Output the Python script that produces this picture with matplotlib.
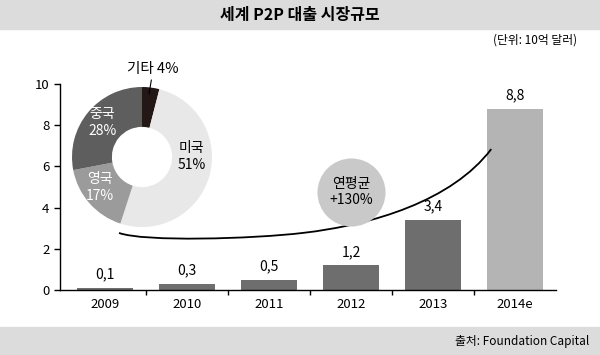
import matplotlib
matplotlib.use("Agg")
import matplotlib.pyplot as plt
from matplotlib.patches import Rectangle, PathPatch
from matplotlib.path import Path

plt.rcParams['font.family'] = ['Noto Sans CJK KR', 'DejaVu Sans']

# data
years = ['2009', '2010', '2011', '2012', '2013', '2014e']
market = [0.1, 0.3, 0.5, 1.2, 3.4, 8.8]
market_labels = ['0,1', '0,3', '0,5', '1,2', '3,4', '8,8']
bar_colors = ['#6e6e6e'] * 5 + ['#b4b4b4']

share_names = ['기타', '미국', '영국', '중국']
share_pct = [4, 51, 17, 28]
share_colors = ['#231815', '#e8e8e8', '#9b9b9b', '#5e5e5e']

# trend curve (bezier control points, data coords)
trend_x = [0.17, 0.47, 1.80, 2.41, 3.26, 4.23, 4.71]
trend_y = [2.77, 2.33, 2.48, 2.77, 3.16, 4.32, 6.84]

fig = plt.figure(figsize=(6, 3.55), dpi=100)

# grey bands top / bottom
fig.patches.append(Rectangle((0, 1 - 29 / 355), 1, 29 / 355, transform=fig.transFigure,
                             color='#dcdcdc', zorder=0))
fig.patches.append(Rectangle((0, 0), 1, 28 / 355, transform=fig.transFigure,
                             color='#dcdcdc', zorder=0))
fig.text(0.5, 1 - 15 / 355, '세계 P2P 대출 시장규모', ha='center', va='center',
         fontsize=11.5, fontweight='bold')
fig.text(0.962, 1 - 40 / 355, '(단위: 10억 달러)', ha='right', va='center', fontsize=8.5)
fig.text(0.982, 14 / 355, '출처: Foundation Capital', ha='right', va='center', fontsize=8.5)

ax = fig.add_axes([0.1, 65 / 355, 496 / 600, 206 / 355])
x = list(range(len(years)))
ax.bar(x, market, width=0.68, color=bar_colors, zorder=2)
for xi, v, lab in zip(x, market, market_labels):
    ax.text(xi, v + 0.3, lab, ha='center', va='bottom', fontsize=10)

ax.set_xlim(-0.55, 5.5)
ax.set_ylim(0, 10)
ax.set_yticks(range(0, 11, 2))
ax.set_xticks(x)
ax.set_xticklabels(years)
ax.set_xticks([i + 0.5 for i in range(5)], minor=True)
ax.tick_params(axis='x', which='major', length=0, labelsize=9.5, pad=6)
ax.tick_params(axis='x', which='minor', length=3.5, width=1)
ax.tick_params(axis='y', length=4, width=1, labelsize=9.5)
for s in ['top', 'right']:
    ax.spines[s].set_visible(False)
ax.spines['left'].set_bounds(0, 10)
for s in ['left', 'bottom']:
    ax.spines[s].set_linewidth(1)
ax.patch.set_alpha(0)

# trend curve
verts = list(zip(trend_x, trend_y))
codes = [Path.MOVETO] + [Path.CURVE4] * 6
ax.add_patch(PathPatch(Path(verts, codes), fill=False, lw=1.3, color='black', zorder=3))

# CAGR bubble
ax.scatter([3.0], [4.76], s=2400, color='#c9c9c9', zorder=3, linewidths=0)
ax.text(3.0, 4.76, '연평균\n+130%', ha='center', va='center', fontsize=10,
        linespacing=1.25, zorder=4)

# donut
pax = fig.add_axes([72 / 600, (355 - 227) / 355, 140 / 600, 140 / 355])
pax.pie(share_pct, colors=share_colors, startangle=90, counterclock=False,
        radius=1, wedgeprops=dict(width=0.57, linewidth=0))
pax.set_xlim(-1, 1)
pax.set_ylim(-1, 1)
pax.set_aspect('equal')
pax.axis('off')

pax.text(0.71, 0.01, '미국\n51%', ha='center', va='center', fontsize=10, linespacing=1.3)
pax.text(-0.57, 0.49, '중국\n28%', ha='center', va='center', fontsize=10,
         color='white', linespacing=1.3)
pax.text(-0.6, -0.44, '영국\n17%', ha='center', va='center', fontsize=10,
         color='white', linespacing=1.3)
pax.annotate('기타 4%', xy=(0.1, 0.9), xytext=(0.16, 1.26), ha='center', va='center',
             fontsize=10.5, annotation_clip=False,
             arrowprops=dict(arrowstyle='-', lw=0.8, color='black', shrinkA=1, shrinkB=0))

fig.savefig('out.png', dpi=100)
